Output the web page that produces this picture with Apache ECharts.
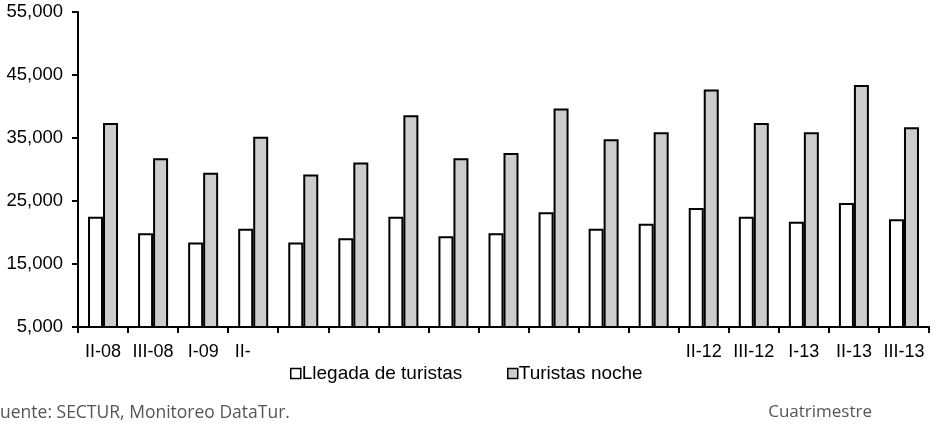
<!DOCTYPE html>
<html>
<head>
<meta charset="utf-8">
<script src="https://cdn.jsdelivr.net/npm/echarts@6/dist/echarts.min.js"></script>
<style>
  html, body { margin: 0; padding: 0; background: #fff; }
  #chart { width: 936px; height: 430px; }
</style>
</head>
<body>
<div id="chart"></div>
<script>
// Periods (cuatrimestres) on the category axis
const periods = ['II-08', 'III-08', 'I-09', 'II-09', 'III-09', 'I-10', 'II-10', 'III-10',
  'I-11', 'II-11', 'III-11', 'I-12', 'II-12', 'III-12', 'I-13', 'II-13', 'III-13'];

// Labels printed under the axis (most middle periods are left unlabeled)
const tickLabels = ['II-08', 'III-08', 'I-09', 'II-', '', '', '', '',
  '', '', '', '', 'II-12', 'III-12', 'I-13', 'II-13', 'III-13'];

// Tourist arrivals
const llegadaTuristas = [22500, 19900, 18400, 20600, 18400, 19100, 22500, 19400,
  19900, 23200, 20600, 21400, 23900, 22500, 21700, 24700, 22100];

// Tourist nights
const turistasNoche = [37400, 31800, 29500, 35200, 29200, 31100, 38600, 31800,
  32600, 39700, 34800, 35900, 42700, 37400, 35900, 43400, 36700];

const yTicks = { min: 5000, max: 55000, step: 10000 };

const seriesNames = ['Llegada de turistas', 'Turistas noche'];

const baseFont = "'Liberation Sans', Arial, sans-serif";
const noteFont = "'Open Sans', 'Noto Sans', sans-serif";

const chart = echarts.init(document.getElementById('chart'), null, { renderer: 'canvas' });

function legendItem(name, left) {
  return {
    data: [name], left: left, top: 364, padding: 0,
    itemWidth: 10, itemHeight: 10, icon: 'rect',
    itemStyle: { borderColor: '#000', borderWidth: 1.5 },
    textStyle: { fontFamily: baseFont, fontSize: 19, color: '#000', padding: [0, 0, 0, -4] }
  };
}

chart.setOption({
  animation: false,
  backgroundColor: '#ffffff',
  grid: { left: 78, right: 7, top: 12, bottom: 103, containLabel: false },
  legend: [legendItem(seriesNames[0], 290), legendItem(seriesNames[1], 507)],
  xAxis: {
    type: 'category',
    data: periods,
    boundaryGap: true,
    axisLine: { lineStyle: { color: '#000', width: 2 } },
    axisTick: { show: true, alignWithLabel: false, length: 6, lineStyle: { color: '#000', width: 2 } },
    axisLabel: {
      interval: 0,
      margin: 16,
      fontFamily: baseFont,
      fontSize: 18,
      color: '#000',
      formatter: (v, i) => {
        const t = tickLabels[i];
        return t === 'II-' ? '{cut|' + t + '}' : t;
      },
      rich: {
        cut: { width: 37, align: 'left', fontFamily: baseFont, fontSize: 18, color: '#000' }
      }
    },
    splitLine: { show: false }
  },
  yAxis: {
    type: 'value',
    min: yTicks.min,
    max: yTicks.max,
    interval: yTicks.step,
    axisLine: { show: true, lineStyle: { color: '#000', width: 2 } },
    axisTick: { show: true, length: 6, lineStyle: { color: '#000', width: 2 } },
    axisLabel: {
      margin: 15,
      fontFamily: baseFont,
      fontSize: 18.5,
      color: '#000',
      formatter: v => v.toLocaleString('en-US')
    },
    splitLine: { show: false }
  },
  series: [
    {
      name: seriesNames[0],
      type: 'bar',
      data: llegadaTuristas,
      barWidth: 15,
      barGap: '0%',
      itemStyle: { color: '#ffffff', borderColor: '#000', borderWidth: 2 }
    },
    {
      name: seriesNames[1],
      type: 'bar',
      data: turistasNoche,
      barWidth: 15,
      barGap: '0%',
      itemStyle: { color: '#cccccc', borderColor: '#000', borderWidth: 2 }
    }
  ],
  graphic: [
    {
      type: 'text', left: -9, top: 404,
      style: { text: 'Fuente: SECTUR, Monitoreo DataTur.', fontFamily: noteFont, fontSize: 17.5, fill: '#555' }
    },
    {
      type: 'text', right: 64, top: 404,
      style: { text: 'Cuatrimestre', fontFamily: noteFont, fontSize: 17, fill: '#555' }
    }
  ]
});
</script>
</body>
</html>
